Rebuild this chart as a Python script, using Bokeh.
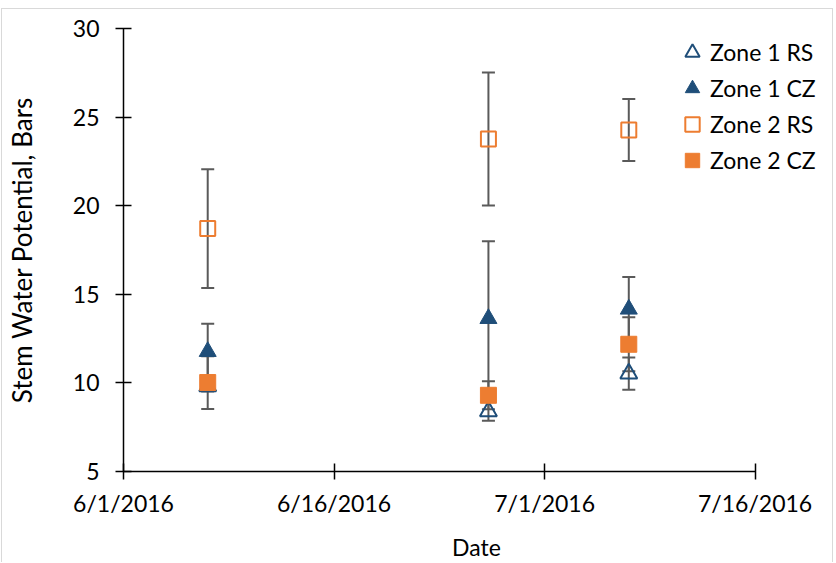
import pandas as pd
from bokeh.plotting import figure
from bokeh.models import (ColumnDataSource, Whisker, TeeHead, Range1d, FixedTicker,
                          CustomJSTickFormatter, Legend, LegendItem)
from bokeh.embed import file_html
from bokeh.resources import INLINE

# ---- data ----
dates = ["2016-06-07", "2016-06-27", "2016-07-07"]
zone1_rs = [9.81, 8.40, 10.53]
zone1_rs_err = [0.30, 0.53, 0.91]
zone1_cz = [11.77, 13.63, 14.16]
zone1_cz_err = [1.57, 4.36, 1.81]
zone2_rs = [18.71, 23.76, 24.27]
zone2_rs_err = [3.35, 3.75, 1.75]
zone2_cz = [10.02, 9.30, 12.18]
zone2_cz_err = [1.49, 0.79, 1.52]

x_ticks = ["2016-06-01", "2016-06-16", "2016-07-01", "2016-07-16"]
y_ticks = [5, 10, 15, 20, 25, 30]

FONT = "Lato"
FS = "23px"
TITLE_FS = "26px"
BLUE = "#1F4E79"
ORANGE = "#ED7D31"
ERR = "#5a5a5a"

x_start = pd.Timestamp(x_ticks[0])
x_end = pd.Timestamp(x_ticks[-1])
# frame continues past the last tick to leave room for the legend
frame_end = x_start + pd.Timedelta(days=50.3)

p = figure(width=832, height=554, output_backend="svg", toolbar_location=None,
           x_axis_type="datetime",
           x_range=Range1d(x_start, frame_end),
           y_range=Range1d(y_ticks[0], y_ticks[-1]),
           min_border_left=100, min_border_right=5, min_border_top=19, min_border_bottom=92)
p.styles = {"margin-left": "1px", "margin-top": "8px",
            "border-top": "1px solid #d9d9d9", "border-left": "1px solid #d9d9d9",
            "border-right": "1px solid #d9d9d9"}
p.outline_line_color = None
p.xgrid.grid_line_color = None
p.ygrid.grid_line_color = None
p.background_fill_color = "white"
p.border_fill_color = "white"

series = [
    ("Zone 1 RS", zone1_rs, zone1_rs_err, "triangle", BLUE, None),
    ("Zone 1 CZ", zone1_cz, zone1_cz_err, "triangle", BLUE, BLUE),
    ("Zone 2 RS", zone2_rs, zone2_rs_err, "square", ORANGE, None),
    ("Zone 2 CZ", zone2_cz, zone2_cz_err, "square", ORANGE, ORANGE),
]

x = pd.to_datetime(dates)
sources = []
for name, vals, errs, marker, lc, fc in series:
    src = ColumnDataSource(dict(
        x=x, y=vals,
        upper=[v + e for v, e in zip(vals, errs)],
        lower=[v - e for v, e in zip(vals, errs)]))
    sources.append(src)
    w = Whisker(base="x", upper="upper", lower="lower", source=src,
                line_color=ERR, line_width=2,
                upper_head=TeeHead(size=13, line_color=ERR, line_width=2),
                lower_head=TeeHead(size=13, line_color=ERR, line_width=2))
    p.add_layout(w)

items = []
for (name, vals, errs, marker, lc, fc), src in zip(series, sources):
    if marker == "triangle":
        size = 17
    else:
        size = 15 if fc is None else 16
    r = p.scatter("x", "y", source=src, marker=marker, size=size,
                  line_color=lc, fill_color=fc, line_width=2 if fc is None else 1)
    items.append(LegendItem(label=name, renderers=[r]))

legend = Legend(items=items, location=(551, 293), glyph_width=36, glyph_height=36,
                spacing=0, label_standoff=-4, padding=0, margin=0,
                border_line_color=None, background_fill_alpha=0,
                label_text_font=FONT, label_text_font_size=FS, label_text_color="black")
p.add_layout(legend, "center")

# axes
for ax in (p.xaxis[0], p.yaxis[0]):
    ax.axis_line_color = "black"
    ax.axis_line_width = 1.5
    ax.major_tick_line_color = "black"
    ax.major_tick_line_width = 1.5
    ax.major_tick_in = 8
    ax.major_tick_out = 8
    ax.minor_tick_line_color = None
    ax.major_label_text_font = FONT
    ax.major_label_text_font_size = FS
    ax.major_label_text_color = "black"
    ax.axis_label_text_font = FONT
    ax.axis_label_text_font_style = "normal"
    ax.axis_label_text_color = "black"

p.xaxis.bounds = (x_start, x_end)
p.xaxis.ticker = FixedTicker(ticks=[pd.Timestamp(d).value / 1e6 for d in x_ticks])
p.xaxis.formatter = CustomJSTickFormatter(code="""
    const d = new Date(tick);
    return (d.getUTCMonth() + 1) + "/" + d.getUTCDate() + "/" + d.getUTCFullYear();
""")
p.xaxis.axis_label = "Date"
p.xaxis.axis_label_text_font_size = FS
p.xaxis.major_label_standoff = 9
p.xaxis.axis_label_standoff = 13

p.yaxis.ticker = FixedTicker(ticks=y_ticks)
p.yaxis.axis_label = "Stem Water Potential, Bars"
p.yaxis.axis_label_text_font_size = TITLE_FS
p.yaxis.major_label_standoff = 16
p.yaxis.axis_label_standoff = 32

open("out.html", "w").write(file_html(p, INLINE))
